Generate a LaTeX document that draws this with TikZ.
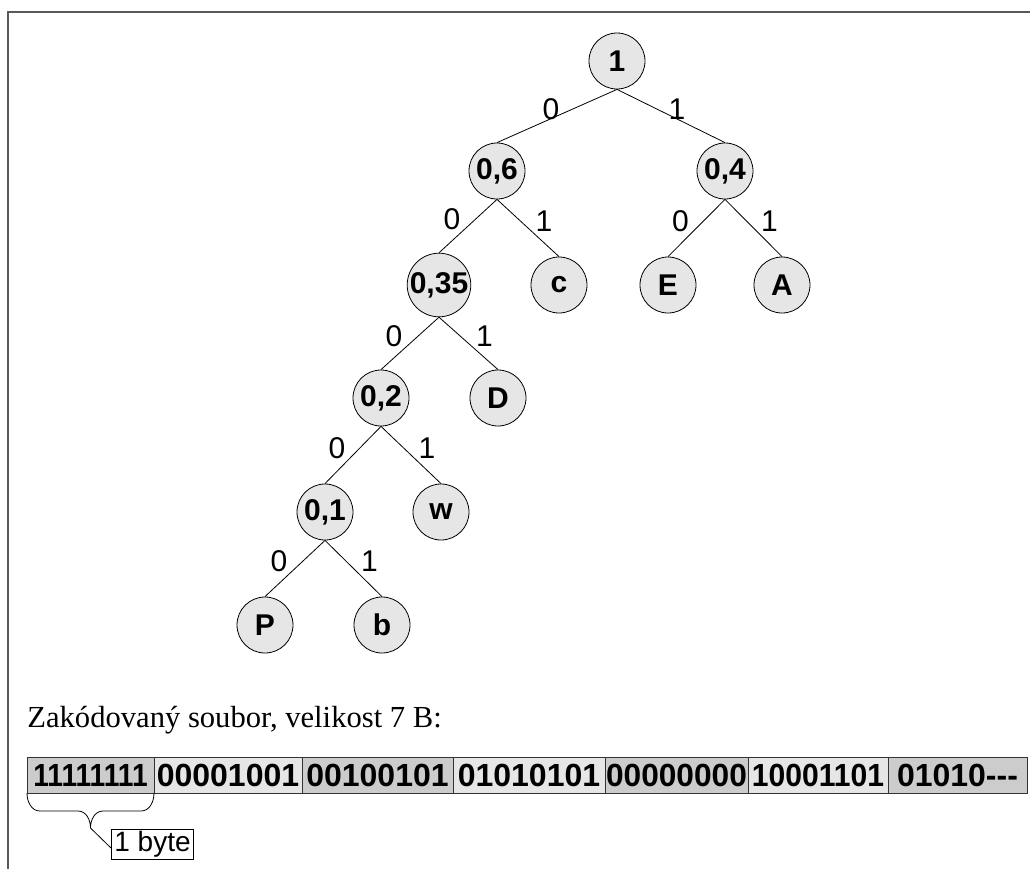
\documentclass[tikz,border=0pt]{standalone}
\usepackage{fontspec}
\setmainfont{Liberation Serif}
\setsansfont{Liberation Sans}

\definecolor{svetla}{HTML}{E6E6E6}
\definecolor{tmava}{HTML}{CCCCCC}

\tikzset{
  vrchol/.style={circle, draw, fill=svetla, minimum size=28pt, inner sep=0pt,
    font=\sffamily\bfseries\fontsize{15}{17}\selectfont},
  bit/.style={font=\sffamily\fontsize{15}{17}\selectfont, inner sep=0pt, midway, yshift=3.5pt},
  bunka/.style={draw=black!80, line width=0.5pt},
  obsah/.style={font=\sffamily\bfseries\fontsize{16}{18}\selectfont, inner sep=0pt},
}

\begin{document}
\begin{tikzpicture}[x=0.5pt, y=-0.5pt]
    \useasboundingbox (0,0) rectangle (1030,869);

    % Frame
    \draw[black!65, line width=0.8pt] (8,869) -- (8,12) -- (1030,12);

    % Tree nodes
    \node[vrchol] (root) at (617,61) {1};
    \node[vrchol] (n06) at (497,171) {0,6};
    \node[vrchol] (n04) at (725,171) {0,4};
    \node[vrchol] (n035) at (439,285) {0,35};
    \node[vrchol] (nc) at (559,285) {c};
    \node[vrchol] (nE) at (668,285) {E};
    \node[vrchol] (nA) at (782,285) {A};
    \node[vrchol] (n02) at (381,398) {0,2};
    \node[vrchol] (nD) at (498,398) {D};
    \node[vrchol] (n01) at (325,512) {0,1};
    \node[vrchol] (nw) at (441,512) {w};
    \node[vrchol] (nP) at (265,625) {P};
    \node[vrchol] (nb) at (382,625) {b};

    % Edges, 0 to the left and 1 to the right
    \foreach \a/\b/\dx in {root/n06/3, n06/n035/8, n04/nE/8, n035/n02/8, n02/n01/8, n01/nP/8}
        \draw (\a.south) -- node[bit, xshift=-\dx pt] {0} (\b.north);
    \foreach \a/\b/\dx in {root/n04/3, n06/nc/8, n04/nA/8, n035/nD/8, n02/nw/8, n01/nb/8}
        \draw (\a.south) -- node[bit, xshift=\dx pt] {1} (\b.north);

    % Encoded file
    \node[anchor=base west, inner sep=0pt, font=\fontsize{15.3}{18}\selectfont]
        (nadpis) at (27,727) {Zakódovaný soubor, velikost 7 B:};

    \foreach \x/\y/\f/\t/\s [count=\i] in {27/154/tmava/11111111/0.88,
        154/302/svetla/00001001/1, 302/453/tmava/00100101/1,
        453/605/svetla/01010101/1, 605/748/tmava/00000000/0.99,
        748/888/svetla/10001101/0.94, 888/1027/tmava/01010{-}{-}{-}/1}
    {
        \draw[bunka, fill=\f] (\x,757) rectangle (\y,793);
        \node[obsah, xscale=\s] (bajt\i) at ({(\x+\y)/2},775) {\t};
    }

    % Brace under the first byte
    \coordinate (hrot) at (90.5,828);
    \draw (27,793) to[out=-90, in=180] (40,811) -- (78,811)
        to[out=0, in=90] (hrot) to[out=90, in=180] (103,811) -- (141,811)
        to[out=0, in=-90] (154,793);
    \node[draw, anchor=west, minimum height=15pt, inner xsep=1.5pt, inner ysep=0pt,
        font=\sffamily\fontsize{14}{16}\selectfont] (popis) at (111,844) {1 byte};
    \draw (hrot) -- ([yshift=-2pt]popis.west);
\end{tikzpicture}
\end{document}
